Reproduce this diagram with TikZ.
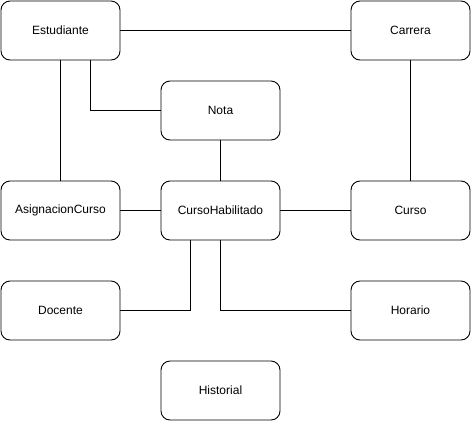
\documentclass[tikz,border=0pt]{standalone}
\usepackage{fontspec}
\setmainfont{Liberation Sans}
\begin{document}
\begin{tikzpicture}[x=1pt,y=-1pt,
  ent/.style={draw=black,line width=0.9pt,rounded corners=9pt,minimum width=119pt,minimum height=59pt,inner sep=0pt,font=\fontsize{12}{14}\selectfont,fill=white},
  link/.style={draw=black,line width=0.9pt}]
\useasboundingbox (0,0) rectangle (471,421);
\node[ent] (est) at (60.5,30.5) {Estudiante};
\node[ent] (car) at (410.5,30.5) {Carrera};
\node[ent] (nota) at (220.5,110.5) {Nota};
\node[ent] (asig) at (60.5,210.5) {AsignacionCurso};
\node[ent] (ch) at (220.5,210.5) {CursoHabilitado};
\node[ent] (cur) at (410.5,210.5) {Curso};
\node[ent] (doc) at (60.5,310.5) {Docente};
\node[ent] (hor) at (410.5,310.5) {Horario};
\node[ent] (his) at (220.5,390.5) {Historial};
\draw[link] (est.east) -- (car.west);
\draw[link] ([xshift=30pt]est.south) |- (nota.west);
\draw[link] (est.south) -- (asig.north);
\draw[link] (car.south) -- (cur.north);
\draw[link] (nota.south) -- (ch.north);
\draw[link] (asig.east) -- (ch.west);
\draw[link] (ch.east) -- (cur.west);
\draw[link] ([xshift=-30pt]ch.south) |- (doc.east);
\draw[link] (ch.south) |- (hor.west);
\end{tikzpicture}
\end{document}
